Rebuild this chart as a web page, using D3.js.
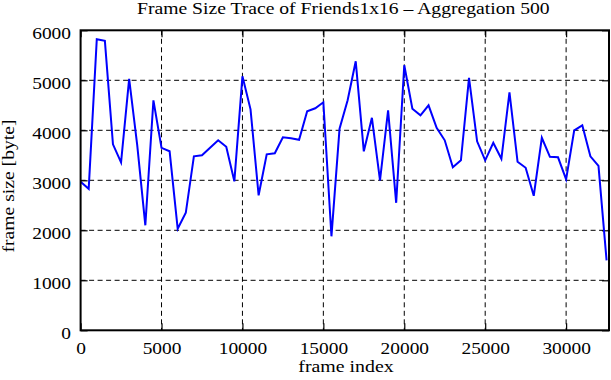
<!DOCTYPE html>
<html>
<head>
<meta charset="utf-8">
<script src="https://cdn.jsdelivr.net/npm/d3@7"></script>
<style>
html, body { margin: 0; padding: 0; background: #fff; }
svg { display: block; }
text { font-family: "Liberation Serif", "Times New Roman", serif; fill: #000; }
</style>
</head>
<body>
<svg id="chart" width="611" height="380"></svg>
<script>
// ---- data ----
const frameIndex = [0,500,1000,1500,2000,2500,3000,3500,4000,4500,5000,5500,6000,6500,7000,7500,8000,8500,9000,9500,
  10000,10500,11000,11500,12000,12500,13000,13500,14000,14500,15000,15500,16000,16500,17000,17500,18000,18500,19000,19500,
  20000,20500,21000,21500,22000,22500,23000,23500,24000,24500,25000,25500,26000,26500,27000,27500,28000,28500,29000,29500,
  30000,30500,31000,31500,32000,32500];
const frameSize = [2970,2830,5820,5790,3720,3360,5030,3700,2100,4600,3650,3580,2030,2350,3480,3500,3650,3800,3670,2980,
  5080,4420,2700,3520,3540,3860,3840,3810,4380,4440,4560,1880,4030,4600,5380,3580,4250,3000,4400,2550,
  5300,4430,4300,4500,4050,3800,3260,3400,5050,3780,3400,3750,3430,4760,3370,3250,2690,3850,3470,3460,
  3020,4000,4100,3480,3290,1400];
const xTicks = [0,5000,10000,15000,20000,25000,30000];
const yTicks = [0,1000,2000,3000,4000,5000,6000];
const xDomain = [0, 32650];
const yDomain = [0, 6000];
const titleText = "Frame Size Trace of Friends1x16 \u2013 Aggregation 500";
const xLabel = "frame index";
const yLabel = "frame size [byte]";

// ---- layout ----
const L = 80.6, R = 609, T = 30.3, B = 330.3;
const W = R - L, H = B - T;
const FS = 16.3, SX = 1.19, TICK = 7;

const svg = d3.select("#chart");
const x = d3.scaleLinear().domain(xDomain).range([L, R]);
const y = d3.scaleLinear().domain(yDomain).range([B, T]);

// grid
const grid = svg.append("g").attr("stroke", "#000").attr("stroke-width", 1).attr("stroke-dasharray", "5,3.5");
grid.selectAll(".gx").data(xTicks.filter(d => d > xDomain[0] && d < xDomain[1])).join("line")
  .attr("x1", d => x(d)).attr("x2", d => x(d)).attr("y1", T).attr("y2", B);
grid.selectAll(".gy").data(yTicks.filter(d => d > yDomain[0] && d < yDomain[1])).join("line")
  .attr("y1", d => y(d)).attr("y2", d => y(d)).attr("x1", L).attr("x2", R);

// axes (inward ticks)
function styleAxis(g) {
  g.select(".domain").remove();
  g.selectAll(".tick line").attr("stroke", "#000").attr("stroke-width", 1.2);
}
const gBottom = svg.append("g").attr("transform", `translate(0,${B})`)
  .call(d3.axisBottom(x).tickValues(xTicks).tickSize(-TICK).tickFormat(d3.format("d")));
styleAxis(gBottom);
gBottom.selectAll(".tick text")
  .attr("y", null).attr("dy", null)
  .attr("font-size", FS)
  .attr("transform", `translate(0,${354 - B}) scale(${SX},1)`)
  .attr("text-anchor", "middle");

const gTop = svg.append("g").attr("transform", `translate(0,${T})`)
  .call(d3.axisTop(x).tickValues(xTicks).tickSize(-TICK).tickFormat(""));
styleAxis(gTop);

const gLeft = svg.append("g").attr("transform", `translate(${L},0)`)
  .call(d3.axisLeft(y).tickValues(yTicks).tickSize(-TICK).tickFormat(d3.format("d")));
styleAxis(gLeft);
gLeft.selectAll(".tick text")
  .attr("x", null).attr("dy", null)
  .attr("font-size", FS)
  .attr("text-anchor", "end")
  .attr("transform", `translate(${71 - L},8) scale(${SX},1)`);

const gRight = svg.append("g").attr("transform", `translate(${R},0)`)
  .call(d3.axisRight(y).tickValues(yTicks).tickSize(-TICK).tickFormat(""));
styleAxis(gRight);

// data line
const line = d3.line().x((d, i) => x(frameIndex[i])).y(d => y(d));
svg.append("path").datum(frameSize)
  .attr("d", line)
  .attr("fill", "none")
  .attr("stroke", "#0000ff")
  .attr("stroke-width", 2)
  .attr("stroke-linejoin", "miter");

// frame
svg.append("rect").attr("x", L).attr("y", T).attr("width", W).attr("height", H)
  .attr("fill", "none").attr("stroke", "#000").attr("stroke-width", 2);

// title and labels
svg.append("text")
  .attr("transform", `translate(${(L + R) / 2 - 1.5},13.8) scale(${SX},1)`)
  .attr("text-anchor", "middle").attr("font-size", FS + 0.2)
  .text(titleText);
svg.append("text")
  .attr("transform", `translate(346,372) scale(${SX},1)`)
  .attr("text-anchor", "middle").attr("font-size", FS + 0.4)
  .text(xLabel);
svg.append("text")
  .attr("transform", `translate(14.2,186) rotate(-90) scale(${SX},1)`)
  .attr("text-anchor", "middle").attr("font-size", FS + 0.2)
  .text(yLabel);
</script>
</body>
</html>
